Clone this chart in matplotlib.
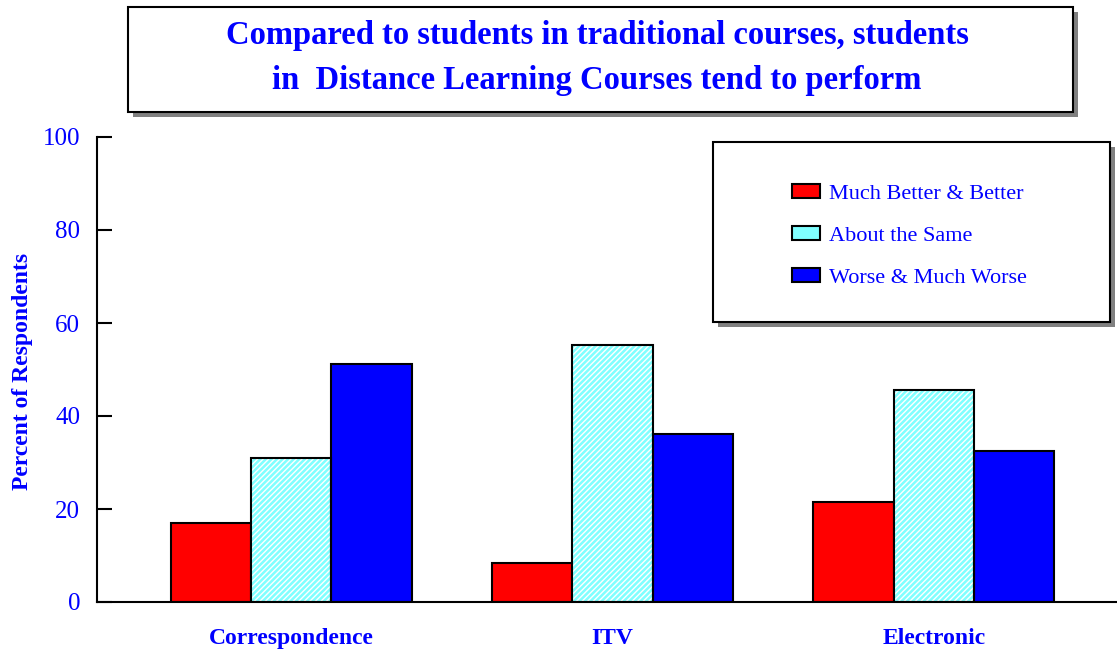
import numpy as np
import matplotlib
matplotlib.use("Agg")
import matplotlib.pyplot as plt
from matplotlib.patches import Rectangle, Patch

categories = ["Correspondence", "ITV", "Electronic"]
series = ["Much Better & Better", "About the Same", "Worse & Much Worse"]
better = [17.0, 8.4, 21.5]
same = [31.0, 55.3, 45.6]
worse = [51.2, 36.1, 32.5]
yticks = [0, 20, 40, 60, 80, 100]

blue = "#0000ff"
red = "#ff0000"
cyan = "#80ffff"
serif = "Liberation Serif"

fig = plt.figure(figsize=(11.17, 6.51), dpi=100)
ax = fig.add_axes([97 / 1117, 1 - 602 / 651, 1020 / 1117, 465 / 651])

x = np.arange(len(categories))
w = 0.25
ax.bar(x - w, better, w, color=red, edgecolor="black", linewidth=1.5, zorder=2)
# hatched cyan bars: white diagonal hatch, then black outline on top
ax.bar(x, same, w, color=cyan, edgecolor="white", hatch="//////", linewidth=0, zorder=2)
ax.bar(x, same, w, fill=False, edgecolor="black", linewidth=1.5, zorder=3)
ax.bar(x + w, worse, w, color=blue, edgecolor="black", linewidth=1.5, zorder=2)

ax.set_xlim(-0.604, 2.57)
ax.set_ylim(0, 100)
ax.set_yticks(yticks)
ax.set_xticks(x)
ax.set_xticklabels(categories, fontfamily=serif, fontweight="bold", fontsize=17, color=blue)
for lab in ax.get_yticklabels():
    lab.set_fontfamily(serif)
    lab.set_fontsize(18)
    lab.set_color(blue)
ax.tick_params(axis="y", direction="in", length=11, width=1.5, pad=12)
ax.tick_params(axis="x", length=0, pad=19)
for s in ["top", "right"]:
    ax.spines[s].set_visible(False)
for s in ["left", "bottom"]:
    ax.spines[s].set_linewidth(1.5)

ax.set_ylabel("Percent of Respondents", fontfamily=serif, fontweight="bold",
              fontsize=17, color=blue, va="center")
ax.yaxis.set_label_coords(-0.0735, 0.495)

# title box with shadow
sh = 5
fig.patches.append(Rectangle(((128 + sh) / 1117, 1 - (112 + sh) / 651), 945 / 1117, 105 / 651,
                             transform=fig.transFigure, facecolor="#808080", edgecolor="none", zorder=1))
fig.patches.append(Rectangle((128 / 1117, 1 - 112 / 651), 945 / 1117, 105 / 651,
                             transform=fig.transFigure, facecolor="white", edgecolor="black",
                             linewidth=1.5, zorder=1))
fig.text(597 / 1117, 1 - 58 / 651,
         "Compared to students in traditional courses, students\nin  Distance Learning Courses tend to perform",
         ha="center", va="center", fontfamily=serif, fontweight="bold", fontsize=23.5,
         color=blue, linespacing=1.55, zorder=3)

# legend box with shadow
fig.patches.append(Rectangle(((713 + sh) / 1117, 1 - (322 + sh) / 651), 397 / 1117, 180 / 651,
                             transform=fig.transFigure, facecolor="#808080", edgecolor="none", zorder=1))
fig.patches.append(Rectangle((713 / 1117, 1 - 322 / 651), 397 / 1117, 180 / 651,
                             transform=fig.transFigure, facecolor="white", edgecolor="black",
                             linewidth=1.5, zorder=1))
handles = [
    Patch(facecolor=red, edgecolor="black", linewidth=1.5),
    Patch(facecolor=cyan, edgecolor="black", linewidth=1.5),
    Patch(facecolor=blue, edgecolor="black", linewidth=1.5),
]
leg = fig.legend(handles, series, loc="upper left", bbox_to_anchor=(792 / 1117, 1 - 184 / 651),
                 frameon=False, borderpad=0, borderaxespad=0, handlelength=1.25, handleheight=0.6,
                 handletextpad=0.4, labelspacing=1.0,
                 prop={"family": serif, "size": 16})
for t in leg.get_texts():
    t.set_color(blue)

fig.savefig("out.png", dpi=100)
